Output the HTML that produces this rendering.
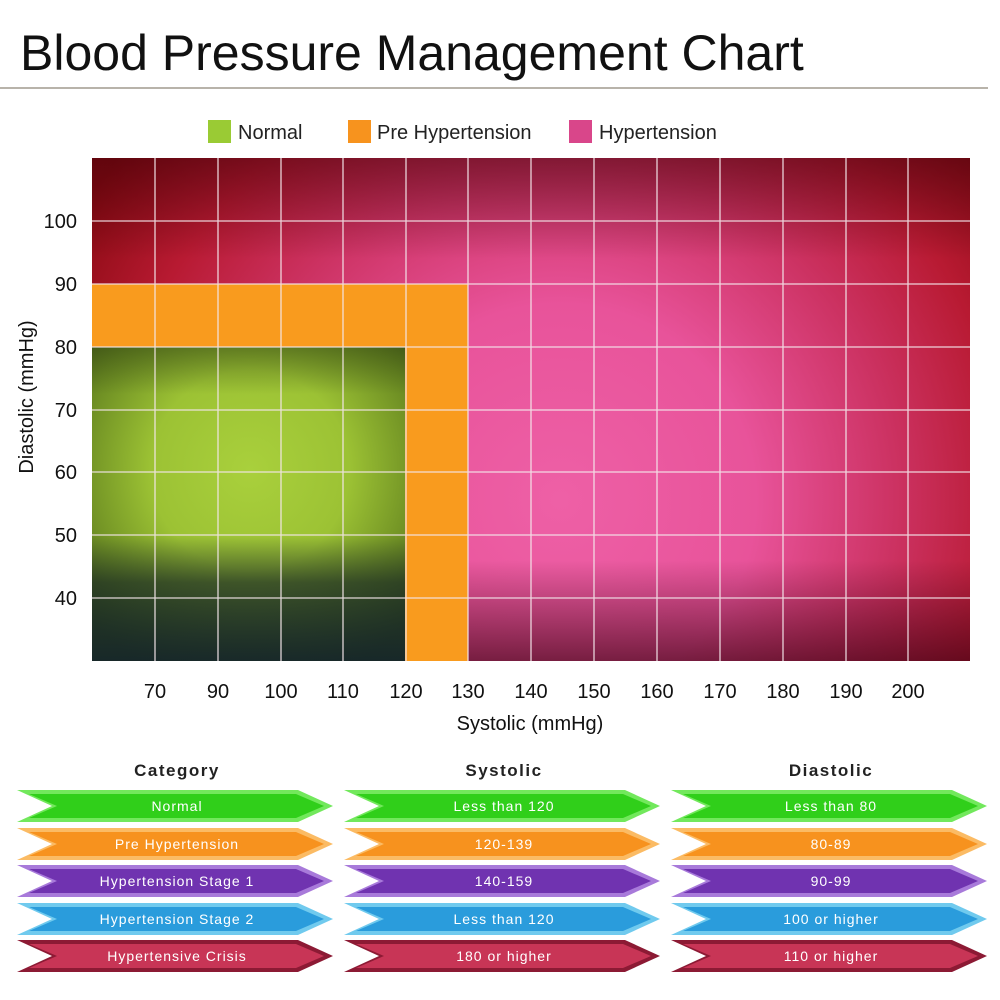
<!DOCTYPE html>
<html><head><meta charset="utf-8"><style>
html,body{margin:0;padding:0;background:#fff;}
svg{display:block;font-family:"Liberation Sans",sans-serif;}
</style></head><body>
<svg width="1000" height="1000" viewBox="0 0 1000 1000" xmlns="http://www.w3.org/2000/svg">
<defs>
<radialGradient id="hyp" gradientUnits="userSpaceOnUse" cx="560" cy="500" r="560">
<stop offset="0" stop-color="#ee60a6"/>
<stop offset="0.35" stop-color="#e8539a"/>
<stop offset="0.6" stop-color="#cc3262"/>
<stop offset="0.8" stop-color="#b81a32"/>
<stop offset="1" stop-color="#8a0a12"/>
</radialGradient>
<linearGradient id="hypv" x1="0" y1="158" x2="0" y2="661" gradientUnits="userSpaceOnUse">
<stop offset="0" stop-color="#3a0008" stop-opacity="0.5"/>
<stop offset="0.2" stop-color="#3a0008" stop-opacity="0"/>
<stop offset="0.8" stop-color="#3a0010" stop-opacity="0"/>
<stop offset="1" stop-color="#3a0010" stop-opacity="0.65"/>
</linearGradient>
<radialGradient id="grn" gradientUnits="userSpaceOnUse" cx="250" cy="470" r="220">
<stop offset="0" stop-color="#a9d03c"/>
<stop offset="0.45" stop-color="#9cc234"/>
<stop offset="0.8" stop-color="#6a8a22"/>
<stop offset="1" stop-color="#4a6418"/>
</radialGradient>
<linearGradient id="grnv" x1="0" y1="347" x2="0" y2="661" gradientUnits="userSpaceOnUse">
<stop offset="0" stop-color="#2a3a10" stop-opacity="0.45"/>
<stop offset="0.15" stop-color="#2a3a10" stop-opacity="0"/>
<stop offset="0.6" stop-color="#1a2a25" stop-opacity="0"/>
<stop offset="0.75" stop-color="#1a2a25" stop-opacity="0.7"/>
<stop offset="1" stop-color="#15252a" stop-opacity="0.95"/>
</linearGradient>
<polygon id="ao" points="0,0 281,0 316,16 281,32 0,32 35,16"/>
<polygon id="ai" points="12,4 279,4 307,16 279,28 12,28 40,16"/>
</defs>

<text x="20" y="70" font-size="50" fill="#111">Blood Pressure Management Chart</text>
<line x1="0" y1="88" x2="988" y2="88" stroke="#a09a8e" stroke-width="1.5"/>

<rect x="208" y="120" width="23" height="23" fill="#9acb34"/>
<text x="238" y="139" font-size="20" fill="#222">Normal</text>
<rect x="348" y="120" width="23" height="23" fill="#f7931e"/>
<text x="377" y="139" font-size="20" fill="#222">Pre Hypertension</text>
<rect x="569" y="120" width="23" height="23" fill="#d9468a"/>
<text x="599" y="139" font-size="20" fill="#222">Hypertension</text>

<rect x="92" y="158" width="878" height="503" fill="url(#hyp)"/>
<rect x="92" y="158" width="878" height="503" fill="url(#hypv)"/>
<rect x="92" y="284" width="376" height="63" fill="#f99b1e"/>
<rect x="405" y="347" width="63" height="314" fill="#f99b1e"/>
<rect x="92" y="347" width="313" height="314" fill="url(#grn)"/>
<rect x="92" y="347" width="313" height="314" fill="url(#grnv)"/>

<g stroke="#f4e6ea" stroke-width="1.3" opacity="0.9">
<line x1="155" y1="158" x2="155" y2="661"/><line x1="218" y1="158" x2="218" y2="661"/>
<line x1="281" y1="158" x2="281" y2="661"/><line x1="343" y1="158" x2="343" y2="661"/>
<line x1="406" y1="158" x2="406" y2="661"/><line x1="468" y1="158" x2="468" y2="661"/>
<line x1="531" y1="158" x2="531" y2="661"/><line x1="594" y1="158" x2="594" y2="661"/>
<line x1="657" y1="158" x2="657" y2="661"/><line x1="720" y1="158" x2="720" y2="661"/>
<line x1="783" y1="158" x2="783" y2="661"/><line x1="846" y1="158" x2="846" y2="661"/>
<line x1="908" y1="158" x2="908" y2="661"/>
<line x1="92" y1="221" x2="970" y2="221"/><line x1="92" y1="284" x2="970" y2="284"/>
<line x1="92" y1="347" x2="970" y2="347"/><line x1="92" y1="410" x2="970" y2="410"/>
<line x1="92" y1="472" x2="970" y2="472"/><line x1="92" y1="535" x2="970" y2="535"/>
<line x1="92" y1="598" x2="970" y2="598"/>
</g>

<g font-size="20" fill="#111" text-anchor="end">
<text x="77" y="228">100</text><text x="77" y="291">90</text><text x="77" y="354">80</text>
<text x="77" y="417">70</text><text x="77" y="479">60</text><text x="77" y="542">50</text>
<text x="77" y="605">40</text>
</g>
<g font-size="20" fill="#111" text-anchor="middle">
<text x="155" y="698">70</text><text x="218" y="698">90</text><text x="281" y="698">100</text>
<text x="343" y="698">110</text><text x="406" y="698">120</text><text x="468" y="698">130</text>
<text x="531" y="698">140</text><text x="594" y="698">150</text><text x="657" y="698">160</text>
<text x="720" y="698">170</text><text x="783" y="698">180</text><text x="846" y="698">190</text>
<text x="908" y="698">200</text>
<text x="530" y="730">Systolic (mmHg)</text>
<text transform="translate(33,397) rotate(-90)">Diastolic (mmHg)</text>
</g>

<g font-size="17" font-weight="bold" fill="#222" text-anchor="middle" letter-spacing="1.5">
<text x="177" y="776">Category</text><text x="504" y="776">Systolic</text><text x="831" y="776">Diastolic</text>
</g>

<g font-size="14" fill="#fff" text-anchor="middle" letter-spacing="1">
<g transform="translate(17,790)"><use href="#ao" fill="#72e85c"/><use href="#ai" fill="#30cf1a"/><text x="160" y="21">Normal</text></g>
<g transform="translate(344,790)"><use href="#ao" fill="#72e85c"/><use href="#ai" fill="#30cf1a"/><text x="160" y="21">Less than 120</text></g>
<g transform="translate(671,790)"><use href="#ao" fill="#72e85c"/><use href="#ai" fill="#30cf1a"/><text x="160" y="21">Less than 80</text></g>
<g transform="translate(17,828)"><use href="#ao" fill="#fbbb64"/><use href="#ai" fill="#f7921e"/><text x="160" y="21">Pre Hypertension</text></g>
<g transform="translate(344,828)"><use href="#ao" fill="#fbbb64"/><use href="#ai" fill="#f7921e"/><text x="160" y="21">120-139</text></g>
<g transform="translate(671,828)"><use href="#ao" fill="#fbbb64"/><use href="#ai" fill="#f7921e"/><text x="160" y="21">80-89</text></g>
<g transform="translate(17,865)"><use href="#ao" fill="#a87ada"/><use href="#ai" fill="#7033b0"/><text x="160" y="21">Hypertension Stage 1</text></g>
<g transform="translate(344,865)"><use href="#ao" fill="#a87ada"/><use href="#ai" fill="#7033b0"/><text x="160" y="21">140-159</text></g>
<g transform="translate(671,865)"><use href="#ao" fill="#a87ada"/><use href="#ai" fill="#7033b0"/><text x="160" y="21">90-99</text></g>
<g transform="translate(17,903)"><use href="#ao" fill="#70caee"/><use href="#ai" fill="#2a9cdc"/><text x="160" y="21">Hypertension Stage 2</text></g>
<g transform="translate(344,903)"><use href="#ao" fill="#70caee"/><use href="#ai" fill="#2a9cdc"/><text x="160" y="21">Less than 120</text></g>
<g transform="translate(671,903)"><use href="#ao" fill="#70caee"/><use href="#ai" fill="#2a9cdc"/><text x="160" y="21">100 or higher</text></g>
<g transform="translate(17,940)"><use href="#ao" fill="#8c1a34"/><use href="#ai" fill="#c83556"/><text x="160" y="21">Hypertensive Crisis</text></g>
<g transform="translate(344,940)"><use href="#ao" fill="#8c1a34"/><use href="#ai" fill="#c83556"/><text x="160" y="21">180 or higher</text></g>
<g transform="translate(671,940)"><use href="#ao" fill="#8c1a34"/><use href="#ai" fill="#c83556"/><text x="160" y="21">110 or higher</text></g>
</g>
</svg>
</body></html>
